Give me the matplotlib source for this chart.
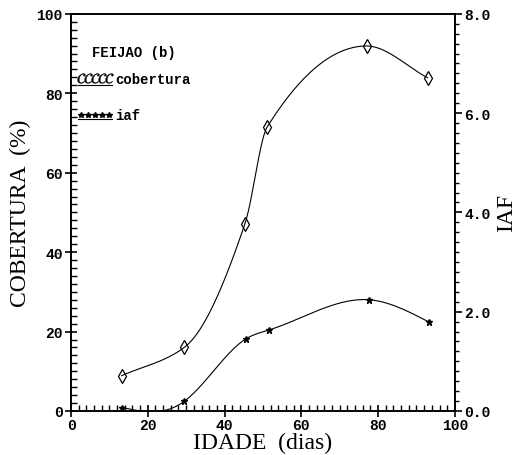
import numpy as np
import matplotlib
matplotlib.use("Agg")
from matplotlib import pyplot as plt
from matplotlib.ticker import MultipleLocator, FormatStrFormatter

# valores
idade = [13.2, 29.5, 45.3, 51.1, 77.0, 92.9]
cobertura = [8.9, 16.0, 47.1, 71.5, 91.9, 83.9]
idade_iaf = [13.4, 29.5, 45.5, 51.5, 77.7, 93.3]
iaf = [0.07, 0.195, 1.45, 1.63, 2.24, 1.79]


def spline(x, y, n=300):
    # spline cubica natural so para suavizar o tracado
    x = np.asarray(x, float)
    y = np.asarray(y, float)
    m = len(x)
    h = np.diff(x)
    A = np.zeros((m, m))
    b = np.zeros(m)
    A[0, 0] = A[-1, -1] = 1
    for i in range(1, m - 1):
        A[i, i - 1] = h[i - 1]
        A[i, i] = 2 * (h[i - 1] + h[i])
        A[i, i + 1] = h[i]
        b[i] = 6 * ((y[i + 1] - y[i]) / h[i] - (y[i] - y[i - 1]) / h[i - 1])
    M = np.linalg.solve(A, b)
    xs = np.linspace(x[0], x[-1], n)
    k = np.clip(np.searchsorted(x, xs) - 1, 0, m - 2)
    t0 = x[k + 1] - xs
    t1 = xs - x[k]
    hk = h[k]
    ys = (M[k] * t0 ** 3 + M[k + 1] * t1 ** 3) / (6 * hk) \
        + (y[k] / hk - M[k] * hk / 6) * t0 + (y[k + 1] / hk - M[k + 1] * hk / 6) * t1
    return xs, ys


def pchip(x, y, n=300):
    # hermite monotona (Fritsch-Carlson), evita o pico falso
    x = np.asarray(x, float)
    y = np.asarray(y, float)
    h = np.diff(x)
    d = np.diff(y) / h
    m = np.zeros_like(y)
    for i in range(1, len(x) - 1):
        if d[i - 1] * d[i] > 0:
            w1 = 2 * h[i] + h[i - 1]
            w2 = h[i] + 2 * h[i - 1]
            m[i] = (w1 + w2) / (w1 / d[i - 1] + w2 / d[i])
    m[0] = d[0]
    m[-1] = d[-1]
    xs = np.linspace(x[0], x[-1], n)
    k = np.clip(np.searchsorted(x, xs) - 1, 0, len(x) - 2)
    t = (xs - x[k]) / h[k]
    h00 = 2 * t ** 3 - 3 * t ** 2 + 1
    h10 = t ** 3 - 2 * t ** 2 + t
    h01 = -2 * t ** 3 + 3 * t ** 2
    h11 = t ** 3 - t ** 2
    ys = h00 * y[k] + h10 * h[k] * m[k] + h01 * y[k + 1] + h11 * h[k] * m[k + 1]
    return xs, ys


plt.rcParams['font.family'] = ['Liberation Serif', 'DejaVu Serif']

fig = plt.figure(figsize=(5.28, 4.56), dpi=100)
ax = fig.add_axes([0.1345, 0.0965, 0.727, 0.871])
ax2 = ax.twinx()

xs, ys = pchip(idade, cobertura)
ax.plot(xs, ys, color='black', lw=0.8)
ax.plot(idade, cobertura, ls='none', marker='d', ms=7, mfc='none', mec='black', mew=0.9)

xs2, ys2 = spline(idade_iaf, iaf)
ax2.plot(xs2, ys2, color='black', lw=0.8)
ax2.plot(idade_iaf, iaf, ls='none', marker='*', ms=5, color='black')

ax.set_xlim(0, 100)
ax.set_ylim(0, 100)
ax2.set_ylim(0, 8)

ax.xaxis.set_major_locator(MultipleLocator(20))
ax.xaxis.set_minor_locator(MultipleLocator(2))
ax.yaxis.set_major_locator(MultipleLocator(20))
ax.yaxis.set_minor_locator(MultipleLocator(2))
ax2.yaxis.set_major_locator(MultipleLocator(2))
ax2.yaxis.set_minor_locator(MultipleLocator(0.2))
ax2.yaxis.set_major_formatter(FormatStrFormatter('%.1f'))

ax.tick_params(axis='x', which='major', direction='inout', length=8, width=1.2, top=False, pad=1)
ax.tick_params(axis='x', which='minor', direction='in', length=4, width=1.0, top=False)
ax.tick_params(axis='y', which='major', direction='inout', length=8, width=1.2, pad=2)
ax.tick_params(axis='y', which='minor', direction='in', length=4, width=1.0)
ax2.tick_params(axis='y', which='major', direction='out', length=5, width=1.2, pad=2)
ax2.tick_params(axis='y', which='minor', direction='out', length=3, width=1.0)

for lab in ax.get_xticklabels() + ax.get_yticklabels() + ax2.get_yticklabels():
    lab.set_fontfamily('Liberation Mono')
    lab.set_fontweight('bold')
    lab.set_fontsize(10.5)

for sp in ax.spines.values():
    sp.set_linewidth(1.2)
for sp in ax2.spines.values():
    sp.set_linewidth(1.2)

ax.set_xlabel('IDADE  (dias)', fontsize=17, labelpad=0)
ax.set_ylabel('COBERTURA  (%)', fontsize=17, labelpad=4)
ax2.set_ylabel('IAF', fontsize=17, labelpad=4)

ax.text(0.055, 0.905, 'FEIJAO (b)', transform=ax.transAxes, family='Liberation Mono',
        weight='bold', fontsize=10, va='center')
ax.plot([0.018, 0.108], [0.82, 0.82], transform=ax.transAxes, color='black', lw=0.8)
ax.plot(np.linspace(0.025, 0.1, 5), [0.838] * 5, transform=ax.transAxes, ls='none',
        marker='$\\mathcal{C}$', ms=7, color='black', mew=0.3)
ax.text(0.115, 0.835, 'cobertura', transform=ax.transAxes, family='Liberation Mono',
        weight='bold', fontsize=10, va='center')
ax.plot([0.018, 0.108], [0.735, 0.735], transform=ax.transAxes, color='black', lw=0.8)
ax.plot(np.linspace(0.025, 0.1, 5), [0.745] * 5, transform=ax.transAxes, ls='none',
        marker='*', ms=4, color='black')
ax.text(0.115, 0.745, 'iaf', transform=ax.transAxes, family='Liberation Mono',
        weight='bold', fontsize=10, va='center')

fig.savefig('out.png', dpi=100)
